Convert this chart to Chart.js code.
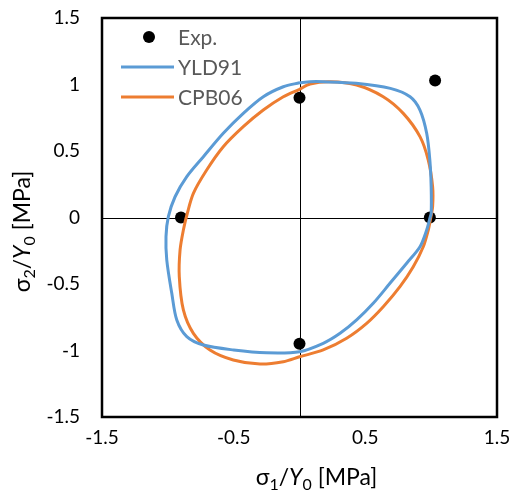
<!DOCTYPE html>
<html>
<head>
<meta charset="utf-8">
<script src="https://cdn.jsdelivr.net/npm/chart.js@4.4.1/dist/chart.umd.min.js"></script>
<style>
    html, body { margin: 0; padding: 0; background: #fff; }
    #wrap { width: 512px; height: 493px; }
</style>
</head>
<body>
<div id="wrap"><canvas id="yieldChart" width="512" height="493"></canvas></div>
<script>
// experimental points
const expX = [-0.9, 0, 0.99, 0, 1.03];
const expY = [0, 0.9, 0, -0.95, 1.03];

// YLD91 yield locus
const yld91X = [0, 0.08, 0.18, 0.43, 0.69, 0.84, 0.915, 0.966, 0.99, 1.0, 1.0, 0.99, 0.966, 0.915, 0.814, 0.687, 0.56, 0.434, 0.308, 0.18, 0,
    -0.25, -0.5, -0.73, -0.856, -0.932, -0.97, -1.008, -1.014, -0.996, -0.945, -0.856, -0.73, -0.579, -0.427, -0.275, -0.123, 0];
const yld91Y = [1.013, 1.021, 1.021, 1.009, 0.971, 0.908, 0.808, 0.633, 0.432, 0.232, 0.032, -0.006, -0.094, -0.22, -0.344, -0.495, -0.645, -0.77, -0.871, -0.946, -1.009,
    -1.017, -0.996, -0.959, -0.896, -0.771, -0.57, -0.32, -0.144, 0.006, 0.156, 0.307, 0.457, 0.633, 0.783, 0.908, 0.983, 1.013];

// CPB06 yield locus
const cpb06X = [0, 0.08, 0.232, 0.434, 0.636, 0.788, 0.915, 0.978, 1.011, 1.011, 0.996, 0.978, 0.94, 0.864, 0.763, 0.636, 0.51, 0.358, 0.18, 0,
    -0.123, -0.3, -0.503, -0.68, -0.806, -0.882, -0.913, -0.907, -0.882, -0.852, -0.806, -0.705, -0.579, -0.427, -0.275, -0.123, 0];
const cpb06Y = [0.964, 1.004, 1.021, 0.996, 0.908, 0.783, 0.608, 0.432, 0.232, 0.081, -0.006, -0.094, -0.22, -0.37, -0.52, -0.671, -0.796, -0.908, -0.996, -1.047,
    -1.084, -1.102, -1.071, -0.996, -0.871, -0.695, -0.445, -0.244, -0.094, 0.032, 0.182, 0.357, 0.532, 0.683, 0.808, 0.908, 0.964];

const seriesNames = ['Exp.', 'YLD91', 'CPB06'];
const xTickValues = [-1.5, -0.5, 0.5, 1.5];
const yTickValues = [-1.5, -1, -0.5, 0, 0.5, 1, 1.5];
// axis titles: sigma_i / Y_0 [MPa], split so the subscripts and italic Y can be drawn
const xTitleParts = [['σ', ''], ['1', 'sub'], ['/', ''], ['Y', 'italic'], ['0', 'sub'], [' [MPa]', '']];
const yTitleParts = [['σ', ''], ['2', 'sub'], ['/', ''], ['Y', 'italic'], ['0', 'sub'], [' [MPa]', '']];

const FONT = 'Lato, "Noto Sans", "DejaVu Sans", sans-serif';
const BLUE = '#5B9BD5';
const ORANGE = '#ED7D31';

function toPoints(xs, ys) {
    return xs.map((x, i) => ({ x: x, y: ys[i] }));
}

function partFont(kind, size) {
    if (kind === 'sub') return Math.round(size * 0.68) + 'px ' + FONT;
    if (kind === 'italic') return 'italic ' + size + 'px ' + FONT;
    return size + 'px ' + FONT;
}

// draws a title made of parts, centred on (cx, cy)
function drawTitle(ctx, parts, cx, cy, size, rotated) {
    ctx.save();
    ctx.translate(cx, cy);
    if (rotated) ctx.rotate(-Math.PI / 2);
    let total = 0;
    parts.forEach(p => {
        ctx.font = partFont(p[1], size);
        total += ctx.measureText(p[0]).width;
    });
    let x = -total / 2;
    ctx.fillStyle = '#000';
    ctx.textBaseline = 'middle';
    parts.forEach(p => {
        ctx.font = partFont(p[1], size);
        const dy = p[1] === 'sub' ? size * 0.28 : 0;
        ctx.fillText(p[0], x, dy);
        x += ctx.measureText(p[0]).width;
    });
    ctx.restore();
}

// zero lines under the curves, frame, legend and titles on top
const framePlugin = {
    id: 'framePlugin',
    beforeDatasetsDraw(chart) {
        const ctx = chart.ctx;
        const a = chart.chartArea;
        const x0 = Math.round(chart.scales.x.getPixelForValue(0)) + 0.5;
        const y0 = Math.round(chart.scales.y.getPixelForValue(0)) + 0.5;
        ctx.save();
        ctx.strokeStyle = '#000';
        ctx.lineWidth = 1;
        ctx.beginPath();
        ctx.moveTo(x0, a.top);
        ctx.lineTo(x0, a.bottom);
        ctx.moveTo(a.left, y0);
        ctx.lineTo(a.right, y0);
        ctx.stroke();
        ctx.restore();
    },
    afterDatasetsDraw(chart) {
        const ctx = chart.ctx;
        const a = chart.chartArea;
        ctx.save();
        ctx.strokeStyle = '#000';
        ctx.lineWidth = 2.5;
        ctx.strokeRect(a.left, a.top, a.right - a.left, a.bottom - a.top);

        // legend in the top left corner of the plot
        const colors = ['#000', BLUE, ORANGE];
        ctx.font = '21px ' + FONT;
        ctx.textBaseline = 'middle';
        seriesNames.forEach((name, i) => {
            const y = a.top + 19 + i * 30;
            if (i === 0) {
                ctx.fillStyle = '#000';
                ctx.beginPath();
                ctx.arc(a.left + 47, y, 6, 0, Math.PI * 2);
                ctx.fill();
            } else {
                ctx.strokeStyle = colors[i];
                ctx.lineWidth = 3;
                ctx.beginPath();
                ctx.moveTo(a.left + 19, y);
                ctx.lineTo(a.left + 72, y);
                ctx.stroke();
            }
            ctx.fillStyle = '#595959';
            ctx.fillText(name, a.left + 76, y + 1);
        });
        ctx.restore();

        // axis titles, sat a little off centre like the original
        const midX = (a.left + a.right) / 2;
        const midY = (a.top + a.bottom) / 2;
        drawTitle(ctx, xTitleParts, midX + 17, a.bottom + 61, 23, false);
        drawTitle(ctx, yTitleParts, 23, midY + 14, 23, true);
    }
};

const ctx = document.getElementById('yieldChart').getContext('2d');
new Chart(ctx, {
    type: 'scatter',
    data: {
        datasets: [
            {
                label: seriesNames[1],
                data: toPoints(yld91X, yld91Y),
                showLine: true,
                borderColor: BLUE,
                borderWidth: 3,
                pointRadius: 0,
                tension: 0.3
            },
            {
                label: seriesNames[2],
                data: toPoints(cpb06X, cpb06Y),
                showLine: true,
                borderColor: ORANGE,
                borderWidth: 3,
                pointRadius: 0,
                tension: 0.3
            },
            {
                label: seriesNames[0],
                data: toPoints(expX, expY),
                showLine: false,
                pointRadius: 6,
                pointBackgroundColor: '#000',
                pointBorderColor: '#000',
                pointBorderWidth: 0
            }
        ]
    },
    options: {
        responsive: false,
        animation: false,
        layout: { padding: { top: 18, right: 15, left: 0, bottom: 0 } },
        plugins: {
            legend: { display: false },
            tooltip: { enabled: false }
        },
        scales: {
            x: {
                type: 'linear',
                min: -1.5,
                max: 1.5,
                afterBuildTicks: scale => { scale.ticks = xTickValues.map(v => ({ value: v })); },
                afterFit: scale => { scale.height = 76; },
                grid: { color: 'transparent', drawOnChartArea: false, drawTicks: true, tickLength: 9, tickColor: 'transparent' },
                border: { display: false },
                ticks: { color: '#000', padding: 0, font: { family: FONT, size: 19 }, callback: v => String(v) }
            },
            y: {
                type: 'linear',
                min: -1.5,
                max: 1.5,
                afterBuildTicks: scale => { scale.ticks = yTickValues.map(v => ({ value: v })); },
                afterFit: scale => { scale.width = 102; },
                grid: { color: 'transparent', drawOnChartArea: false, drawTicks: true, tickLength: 18, tickColor: 'transparent' },
                border: { display: false },
                ticks: { color: '#000', padding: 4, font: { family: FONT, size: 19 }, callback: v => String(v) }
            }
        }
    },
    plugins: [framePlugin]
});
</script>
</body>
</html>
